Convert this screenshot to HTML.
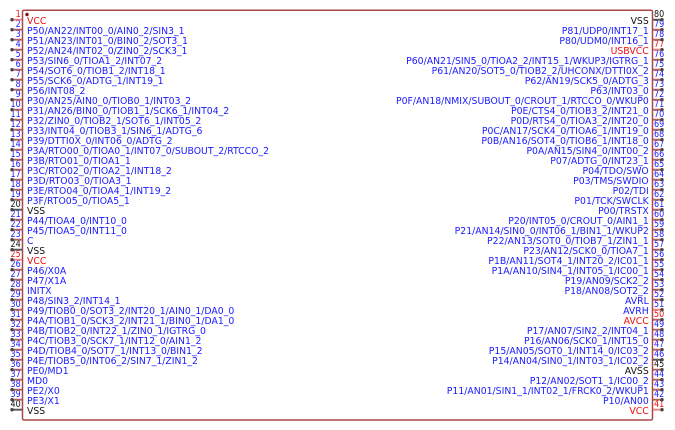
<!DOCTYPE html>
<html><head><meta charset="utf-8"><style>
html,body{margin:0;padding:0;background:#fff;width:675px;height:430px;overflow:hidden}
svg{position:absolute;left:0;top:0}
.c{position:absolute;font-family:"DejaVu Sans",sans-serif;white-space:pre;color:#1a1aff}
.l{font-size:10px;line-height:10px}
.lab{top:16.5px}
.n{font-size:10px;line-height:10px;top:10px}
.k{color:#111}.r{color:#f01010}
</style></head><body>
<svg width="675" height="430" viewBox="0 0 675 430">
<rect x="22.5" y="10.2" width="630" height="409.8" rx="1.5" fill="#fff" stroke="#a84848" stroke-width="1.5"/>
<circle cx="27" cy="14.5" r="1.7" fill="#801010"/>
</svg>
<div class="c l lab" style="left:26.5px;transform:scaleX(.93);transform-origin:0 0"><span class="r">VCC</span>
P50/AN22/INT00_0/AIN0_2/SIN3_1
P51/AN23/INT01_0/BIN0_2/SOT3_1
P52/AN24/INT02_0/ZIN0_2/SCK3_1
P53/SIN6_0/TIOA1_2/INT07_2
P54/SOT6_0/TIOB1_2/INT18_1
P55/SCK6_0/ADTG_1/INT19_1
P56/INT08_2
P30/AN25/AIN0_0/TIOB0_1/INT03_2
P31/AN26/BIN0_0/TIOB1_1/SCK6_1/INT04_2
P32/ZIN0_0/TIOB2_1/SOT6_1/INT05_2
P33/INT04_0/TIOB3_1/SIN6_1/ADTG_6
P39/DTTI0X_0/INT06_0/ADTG_2
P3A/RTO00_0/TIOA0_1/INT07_0/SUBOUT_2/RTCCO_2
P3B/RTO01_0/TIOA1_1
P3C/RTO02_0/TIOA2_1/INT18_2
P3D/RTO03_0/TIOA3_1
P3E/RTO04_0/TIOA4_1/INT19_2
P3F/RTO05_0/TIOA5_1
<span class="k">VSS</span>
P44/TIOA4_0/INT10_0
P45/TIOA5_0/INT11_0
C
<span class="k">VSS</span>
<span class="r">VCC</span>
P46/X0A
P47/X1A
INITX
P48/SIN3_2/INT14_1
P49/TIOB0_0/SOT3_2/INT20_1/AIN0_1/DA0_0
P4A/TIOB1_0/SCK3_2/INT21_1/BIN0_1/DA1_0
P4B/TIOB2_0/INT22_1/ZIN0_1/IGTRG_0
P4C/TIOB3_0/SCK7_1/INT12_0/AIN1_2
P4D/TIOB4_0/SOT7_1/INT13_0/BIN1_2
P4E/TIOB5_0/INT06_2/SIN7_1/ZIN1_2
PE0/MD1
MD0
PE2/X0
PE3/X1
<span class="k">VSS</span></div>
<div class="c l lab" style="right:26.5px;text-align:right;transform:scaleX(.93);transform-origin:100% 0"><span class="k">VSS</span>
P81/UDP0/INT17_1
P80/UDM0/INT16_1
<span class="r">USBVCC</span>
P60/AN21/SIN5_0/TIOA2_2/INT15_1/WKUP3/IGTRG_1
P61/AN20/SOT5_0/TIOB2_2/UHCONX/DTTI0X_2
P62/AN19/SCK5_0/ADTG_3
P63/INT03_0
P0F/AN18/NMIX/SUBOUT_0/CROUT_1/RTCCO_0/WKUP0
P0E/CTS4_0/TIOB3_2/INT21_0
P0D/RTS4_0/TIOA3_2/INT20_0
P0C/AN17/SCK4_0/TIOA6_1/INT19_0
P0B/AN16/SOT4_0/TIOB6_1/INT18_0
P0A/AN15/SIN4_0/INT00_2
P07/ADTG_0/INT23_1
P04/TDO/SWO
P03/TMS/SWDIO
P02/TDI
P01/TCK/SWCLK
P00/TRSTX
P20/INT05_0/CROUT_0/AIN1_1
P21/AN14/SIN0_0/INT06_1/BIN1_1/WKUP2
P22/AN13/SOT0_0/TIOB7_1/ZIN1_1
P23/AN12/SCK0_0/TIOA7_1
P1B/AN11/SOT4_1/INT20_2/IC01_1
P1A/AN10/SIN4_1/INT05_1/IC00_1
P19/AN09/SCK2_2
P18/AN08/SOT2_2
AVRL
AVRH
<span class="r">AVCC</span>
P17/AN07/SIN2_2/INT04_1
P16/AN06/SCK0_1/INT15_0
P15/AN05/SOT0_1/INT14_0/IC03_2
P14/AN04/SIN0_1/INT03_1/IC02_2
<span class="k">AVSS</span>
P12/AN02/SOT1_1/IC00_2
P11/AN01/SIN1_1/INT02_1/FRCK0_2/WKUP1
P10/AN00
<span class="r">VCC</span></div>
<div class="c n" style="right:654px;text-align:right;transform:scaleX(.8);transform-origin:100% 0"><span class="r">1</span>
2
3
4
5
6
7
8
9
10
11
12
13
14
15
16
17
18
19
<span class="k">20</span>
21
22
23
<span class="k">24</span>
<span class="r">25</span>
26
27
28
29
30
31
32
33
34
35
36
37
38
39
<span class="k">40</span></div>
<div class="c n" style="left:654px;transform:scaleX(.8);transform-origin:0 0"><span class="k">80</span>
79
78
<span class="r">77</span>
76
75
74
73
72
71
70
69
68
67
66
65
64
63
62
61
60
59
58
57
56
55
54
53
52
51
<span class="r">50</span>
49
48
47
46
<span class="k">45</span>
44
43
42
<span class="r">41</span></div>
<svg width="675" height="430" viewBox="0 0 675 430">
<path stroke="#b06060" stroke-width="1.8" fill="none" d="M12 29.7H22M12 39.7H22M12 49.7H22M12 59.7H22M12 69.7H22M12 79.7H22M12 89.7H22M12 99.7H22M12 109.7H22M12 119.7H22M12 129.7H22M12 139.7H22M12 149.7H22M12 159.7H22M12 169.7H22M12 179.7H22M12 189.7H22M12 199.7H22M12 219.7H22M12 229.7H22M12 239.7H22M12 269.7H22M12 279.7H22M12 289.7H22M12 299.7H22M12 309.7H22M12 319.7H22M12 329.7H22M12 339.7H22M12 349.7H22M12 359.7H22M12 369.7H22M12 379.7H22M12 389.7H22M12 399.7H22
M653 29.7H662M653 39.7H662M653 59.7H662M653 69.7H662M653 79.7H662M653 89.7H662M653 99.7H662M653 109.7H662M653 119.7H662M653 129.7H662M653 139.7H662M653 149.7H662M653 159.7H662M653 169.7H662M653 179.7H662M653 189.7H662M653 199.7H662M653 209.7H662M653 219.7H662M653 229.7H662M653 239.7H662M653 249.7H662M653 259.7H662M653 269.7H662M653 279.7H662M653 289.7H662M653 299.7H662M653 319.7H662M653 329.7H662M653 339.7H662M653 349.7H662M653 369.7H662M653 379.7H662M653 389.7H662M653 399.7H662"/>
<path stroke="#f08080" stroke-width="1.8" fill="none" d="M12 19.7H22M12 259.7H22M653 49.7H662M653 309.7H662M653 409.7H662"/>
<path stroke="#555" stroke-width="1.8" fill="none" d="M12 209.7H22M12 249.7H22M12 409.7H22M653 19.7H662M653 359.7H662"/>
<path stroke="#444" stroke-width="3.4" stroke-linecap="round" fill="none" d="M12 19.7h.01M12 29.7h.01M12 39.7h.01M12 49.7h.01M12 59.7h.01M12 69.7h.01M12 79.7h.01M12 89.7h.01M12 99.7h.01M12 109.7h.01M12 119.7h.01M12 129.7h.01M12 139.7h.01M12 149.7h.01M12 159.7h.01M12 169.7h.01M12 179.7h.01M12 189.7h.01M12 199.7h.01M12 209.7h.01M12 219.7h.01M12 229.7h.01M12 239.7h.01M12 249.7h.01M12 259.7h.01M12 269.7h.01M12 279.7h.01M12 289.7h.01M12 299.7h.01M12 309.7h.01M12 319.7h.01M12 329.7h.01M12 339.7h.01M12 349.7h.01M12 359.7h.01M12 369.7h.01M12 379.7h.01M12 389.7h.01M12 399.7h.01M12 409.7h.01
M662 19.7h.01M662 29.7h.01M662 39.7h.01M662 49.7h.01M662 59.7h.01M662 69.7h.01M662 79.7h.01M662 89.7h.01M662 99.7h.01M662 109.7h.01M662 119.7h.01M662 129.7h.01M662 139.7h.01M662 149.7h.01M662 159.7h.01M662 169.7h.01M662 179.7h.01M662 189.7h.01M662 199.7h.01M662 209.7h.01M662 219.7h.01M662 229.7h.01M662 239.7h.01M662 249.7h.01M662 259.7h.01M662 269.7h.01M662 279.7h.01M662 289.7h.01M662 299.7h.01M662 309.7h.01M662 319.7h.01M662 329.7h.01M662 339.7h.01M662 349.7h.01M662 359.7h.01M662 369.7h.01M662 379.7h.01M662 389.7h.01M662 399.7h.01M662 409.7h.01"/>
</svg>
</body></html>
